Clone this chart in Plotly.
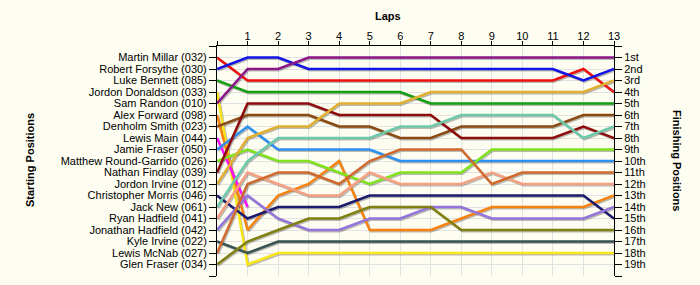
import plotly.graph_objects as go

LAPS = list(range(0, 14))
LAP_LABELS = [""] + [str(i) for i in range(1, 14)]

DRIVERS = [
    "Martin Millar (032)", "Robert Forsythe (030)", "Luke Bennett (085)",
    "Jordon Donaldson (033)", "Sam Randon (010)", "Alex Forward (098)",
    "Denholm Smith (023)", "Lewis Main (044)", "Jamie Fraser (050)",
    "Matthew Round-Garrido (026)", "Nathan Findlay (039)", "Jordon Irvine (012)",
    "Christopher Morris (046)", "Jack New (061)", "Ryan Hadfield (041)",
    "Jonathan Hadfield (042)", "Kyle Irvine (022)", "Lewis McNab (027)",
    "Glen Fraser (034)",
]

FINISH_LABELS = ["1st", "2nd", "3rd"] + [f"{i}th" for i in range(4, 20)]

# Position of each driver at laps 0..13 (None = retired)
millar = [1, 3, 3, 3, 3, 3, 3, 3, 3, 3, 3, 3, 2, 4]
forsythe = [2, 1, 1, 2, 2, 2, 2, 2, 2, 2, 2, 2, 3, 2]
bennett = [3, 4, 4, 4, 4, 4, 4, 5, 5, 5, 5, 5, 5, 5]
donaldson = [4, 19, 18, 18, 18, 18, 18, 18, 18, 18, 18, 18, 18, 18]
randon = [5, 2, 2, 1, 1, 1, 1, 1, 1, 1, 1, 1, 1, 1]
forward = [6, 16, 13, 12, 10, 16, 16, 16, 15, 14, 14, 14, 14, 13]
smith = [7, 6, 6, 6, 7, 7, 8, 8, 7, 7, 7, 7, 6, 6]
main = [8, 14, None, None, None, None, None, None, None, None, None, None, None, None]
jamie_fraser = [9, 7, 9, 9, 9, 9, 10, 10, 10, 10, 10, 10, 10, 10]
round_garrido = [10, 9, 10, 10, 11, 12, 11, 11, 11, 9, 9, 9, 9, 9]
findlay = [11, 5, 5, 5, 6, 6, 6, 6, 8, 8, 8, 8, 7, 8]
jordon_irvine = [12, 8, 7, 7, 5, 5, 5, 4, 4, 4, 4, 4, 4, 3]
morris = [13, 15, 14, 14, 14, 13, 13, 13, 13, 13, 13, 13, 13, 15]
new = [14, 10, 8, 8, 8, 8, 7, 7, 6, 6, 6, 6, 8, 7]
ryan_hadfield = [15, 11, 12, 13, 13, 11, 12, 12, 12, 11, 12, 12, 12, 12]
jonathan_hadfield = [16, 13, 15, 16, 16, 15, 15, 14, 14, 15, 15, 15, 15, 14]
kyle_irvine = [17, 18, 17, 17, 17, 17, 17, 17, 17, 17, 17, 17, 17, 17]
mcnab = [18, 12, 11, 11, 12, 10, 9, 9, 9, 12, 11, 11, 11, 11]
glen_fraser = [19, 17, 16, 15, 15, 14, 14, 14, 16, 16, 16, 16, 16, 16]

SERIES = [millar, forsythe, bennett, donaldson, randon, forward, smith, main,
          jamie_fraser, round_garrido, findlay, jordon_irvine, morris, new,
          ryan_hadfield, jonathan_hadfield, kyle_irvine, mcnab, glen_fraser]

COLORS = ["#EE1111", "#1414E6", "#12A012", "#F8E61A", "#8A168A", "#F7820F",
          "#8B4A12", "#FF10FF", "#2E90F0", "#80E41C", "#8E0C0C", "#E2B030",
          "#1C1C6E", "#6CCAAA", "#F5A082", "#9474DA", "#365252", "#D0692C",
          "#808010"]

BG = "#FDFDF1"
FONT = "Liberation Sans, Arial, sans-serif"

fig = go.Figure()

# shadows
for s in SERIES:
    fig.add_trace(go.Scatter(
        x=[l + 0.035 for l in LAPS],
        y=[(v + 0.11) if v is not None else None for v in s],
        mode="lines", line=dict(color="rgba(60,60,60,0.35)", width=2.5),
        hoverinfo="skip", showlegend=False, connectgaps=False))

for name, s, c in zip(DRIVERS, SERIES, COLORS):
    fig.add_trace(go.Scatter(
        x=LAPS, y=s, mode="lines", name=name,
        line=dict(color=c, width=2.5), showlegend=False, connectgaps=False))

# invisible trace on right axis
fig.add_trace(go.Scatter(x=[LAPS[-1]], y=[glen_fraser[-1]], yaxis="y2",
                         mode="markers", marker=dict(opacity=0),
                         hoverinfo="skip", showlegend=False))

ypos = list(range(0, 21))
left_text = [""] + DRIVERS + [""]
right_text = [""] + FINISH_LABELS + [""]

fig.update_layout(
    width=700, height=285,
    margin=dict(l=217, r=86, t=46, b=9),
    paper_bgcolor=BG, plot_bgcolor=BG,
    font=dict(family=FONT, size=11, color="#000000"),
    xaxis=dict(side="top", range=[0, 13], tickvals=LAPS, ticktext=LAP_LABELS,
               ticks="outside", ticklen=4, tickcolor="#000", showline=True,
               linecolor="#000", linewidth=1, showgrid=True, gridcolor="#E2E2E2",
               gridwidth=1, zeroline=False, tickfont=dict(size=11),
               ticklabelstandoff=-3),
    yaxis=dict(range=[20, 0], tickvals=ypos, ticktext=left_text,
               ticks="outside", ticklen=7, tickcolor="#000", showline=True,
               linecolor="#000", linewidth=1, showgrid=True, gridcolor="#E2E2E2",
               gridwidth=1, zeroline=False, tickfont=dict(size=11)),
    yaxis2=dict(range=[20, 0], tickvals=ypos, ticktext=right_text,
                overlaying="y", side="right", ticks="outside", ticklen=7,
                tickcolor="#000", showline=True, linecolor="#000", linewidth=1,
                showgrid=False, zeroline=False, tickfont=dict(size=11)),
    annotations=[
        dict(text="<b>Laps</b>", x=388, y=16, xref="paper", yref="paper",
             showarrow=False, font=dict(size=11, family=FONT)),
        dict(text="<b>Starting Positions</b>", x=30, y=160, textangle=-90,
             showarrow=False, font=dict(size=11, family=FONT)),
        dict(text="<b>Finishing Positions</b>", x=677, y=160, textangle=90,
             showarrow=False, font=dict(size=11, family=FONT)),
    ],
)

# convert pixel annotation positions to paper coords
pw, ph = 700 - 217 - 86, 285 - 46 - 9
for a in fig.layout.annotations:
    px, py = a.x, a.y
    a.x = (px - 217) / pw
    a.y = 1 - (py - 46) / ph
    a.xref = "paper"
    a.yref = "paper"
    a.xanchor = "center"
    a.yanchor = "middle"

fig.write_html("out.html")
